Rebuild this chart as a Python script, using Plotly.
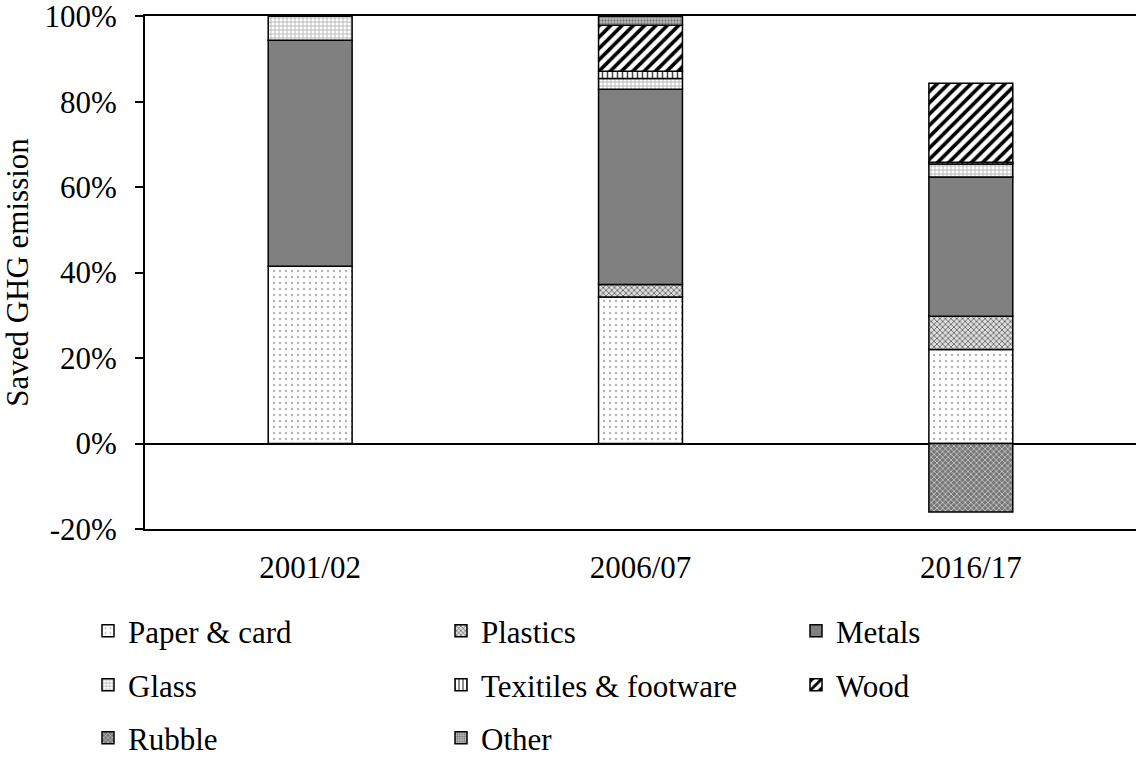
import plotly.graph_objects as go

categories = ["2001/02", "2006/07", "2016/17"]
paper = [41.5, 34.3, 22.0]
plastics = [None, 2.9, 7.8]
metals = [52.9, 45.7, 32.6]
glass = [5.6, 2.5, 3.0]
textiles = [None, 1.7, 0.4]
wood = [None, 10.8, 18.5]
rubble = [None, None, -16.0]
other = [None, 2.1, None]

ytick_vals = [-20, 0, 20, 40, 60, 80, 100]
ytick_text = ["-20%", "0%", "20%", "40%", "60%", "80%", "100%"]

FONT = "Liberation Serif, Times New Roman, serif"
FS = 31

series = [
    ("Paper & card", paper, dict(shape=".", fgcolor="#b0b0b0", bgcolor="white", size=6, solidity=0.12)),
    ("Plastics", plastics, dict(shape="x", fgcolor="#555555", bgcolor="#dddddd", size=4, solidity=0.35)),
    ("Metals", metals, None),
    ("Glass", glass, dict(shape="+", fgcolor="#aaaaaa", bgcolor="white", size=4, solidity=0.35)),
    ("Texitiles & footware", textiles, dict(shape="|", fgcolor="#444444", bgcolor="white", size=5, solidity=0.3)),
    ("Wood", wood, dict(shape="/", fgcolor="black", bgcolor="white", size=8, solidity=0.45)),
    ("Rubble", rubble, dict(shape="x", fgcolor="#e0e0e0", bgcolor="#777777", size=4, solidity=0.3)),
    ("Other", other, dict(shape=".", fgcolor="#777777", bgcolor="#cccccc", size=3, solidity=0.5)),
]

col_x = [88, 441, 796]
row_y = [631, 685, 738]

fig = go.Figure()
legends = {}
for i, (name, vals, pat) in enumerate(series):
    marker = dict(line=dict(color="black", width=1.5))
    if pat is None:
        marker["color"] = "#808080"
    else:
        marker["color"] = pat["bgcolor"]
        marker["pattern"] = dict(shape=pat["shape"], fgcolor=pat["fgcolor"], bgcolor=pat["bgcolor"],
                                 size=pat["size"], solidity=pat["solidity"], fillmode="replace")
    leg = "legend" if i == 0 else f"legend{i + 1}"
    fig.add_trace(go.Bar(name=name, x=categories, y=vals, marker=marker, legend=leg))
    legends[leg] = dict(orientation="h", xref="container", yref="container",
                        x=col_x[i % 3] / 1136, y=1 - row_y[i // 3] / 761,
                        xanchor="left", yanchor="middle",
                        font=dict(family=FONT, size=FS, color="black"), bgcolor="rgba(0,0,0,0)",
                        itemclick=False, itemdoubleclick=False)

fig.update_layout(
    barmode="relative",
    bargap=0.746,
    width=1136, height=761,
    margin=dict(l=145, r=0, t=16, b=232, autoexpand=False),
    paper_bgcolor="white", plot_bgcolor="white",
    font=dict(family=FONT, size=FS, color="black"),
    showlegend=True,
    xaxis=dict(showline=True, mirror=True, linecolor="black", linewidth=2, ticks="",
               showgrid=False, ticklabelstandoff=10, tickfont=dict(family=FONT, size=FS)),
    yaxis=dict(range=[-20, 100.05], tickvals=ytick_vals, ticktext=ytick_text, showgrid=False,
               showline=True, linecolor="black", linewidth=2, ticks="outside", ticklen=8,
               tickwidth=1.5, tickcolor="black", zeroline=True, zerolinecolor="black",
               zerolinewidth=1.5, ticklabelstandoff=12, ticklabeloverflow="allow",
               title=dict(text="Saved GHG emission", font=dict(family=FONT, size=FS), standoff=10)),
    **legends,
)

fig.write_html("out.html", config={"displayModeBar": False},
               post_script="document.body.style.margin='0';document.body.style.overflow='hidden';")
